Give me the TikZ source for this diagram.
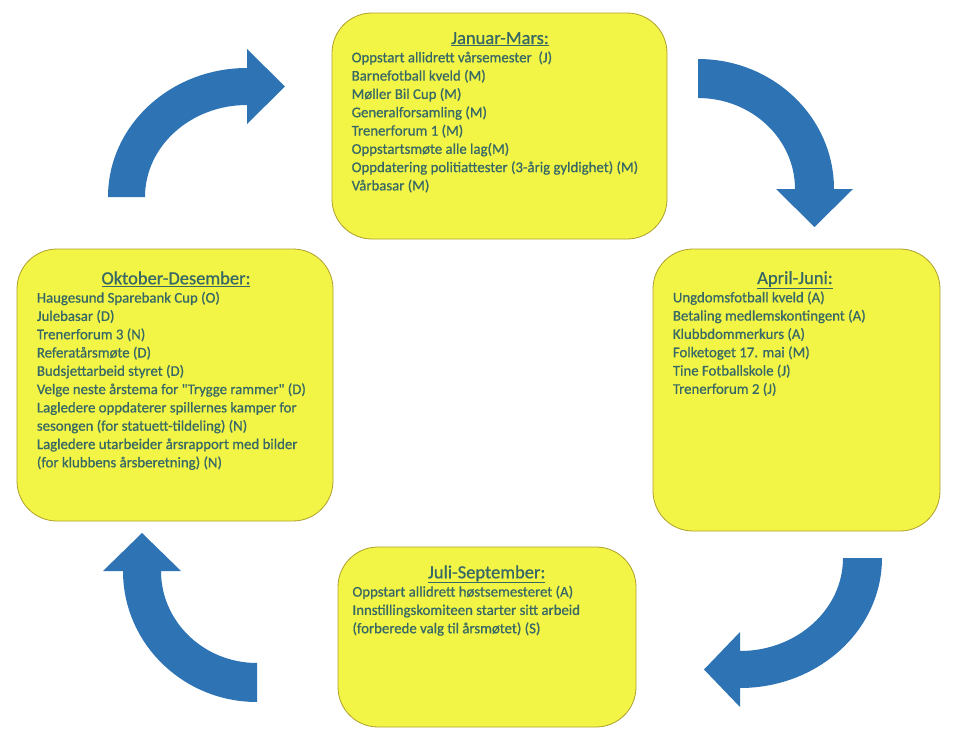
\documentclass[tikz,border=0pt]{standalone}
\usepackage{fontspec}
\newfontfamily\calfont{Carlito}[FakeBold=0.7]
\definecolor{boxfill}{RGB}{242,245,70}
\definecolor{boxline}{RGB}{175,160,45}
\definecolor{txt}{RGB}{55,104,102}
\definecolor{arrblue}{RGB}{46,116,181}
\begin{document}
\begin{tikzpicture}[x=1pt,y=-1pt,
  box/.style={draw=boxline, line width=0.8pt, fill=boxfill, rounded corners=40pt, inner sep=0pt},
  ttl/.style={text=txt, font=\calfont\fontsize{18.5}{22}\selectfont, anchor=base, inner sep=0pt},
  lst/.style={text=txt, font=\calfont\fontsize{14.8}{18.3}\selectfont, anchor=base west, align=left, inner sep=0pt},
  arr/.style={fill=arrblue, draw=none}]
\useasboundingbox (0,0) rectangle (954,744);
\fill[white] (0,0) rectangle (954,744);

% boxes
\node[box, minimum width=335pt, minimum height=226pt] (q1) at (499.5,126) {};
\node[box, minimum width=287pt, minimum height=282pt] (q2) at (796.5,390) {};
\node[box, minimum width=298pt, minimum height=180pt] (q3) at (487,637) {};
\node[box, minimum width=316pt, minimum height=272pt] (q4) at (175,385) {};

% titles
\node[ttl] (t1) at (500,44) {\underline{Januar-Mars:}};
\node[ttl] (t2) at (795,284) {\underline{April-Juni:}};
\node[ttl] (t3) at (486.7,578.3) {\underline{Juli-September:}};
\node[ttl] (t4) at (176,284.3) {\underline{Oktober-Desember:}};

% lists (anchored at the baseline of their last line)
\node[lst] (l1) at (351.5,190.4) {Oppstart allidrett vårsemester\ \ (J)\\
Barnefotball kveld (M)\\
Møller Bil Cup (M)\\
Generalforsamling (M)\\
Trenerforum 1 (M)\\
Oppstartsmøte alle lag(M)\\
Oppdatering politiattester (3-årig gyldighet) (M)\\
Vårbasar (M)};
\node[lst] (l2) at (672.7,393.8) {Ungdomsfotball kveld (A)\\
Betaling medlemskontingent (A)\\
Klubbdommerkurs (A)\\
Folketoget 17. mai (M)\\
Tine Fotballskole (J)\\
Trenerforum 2 (J)};
\node[lst] (l3) at (352.3,633.2) {Oppstart allidrett høstsemesteret (A)\\
Innstillingskomiteen starter sitt arbeid\\
(forberede valg til årsmøtet) (S)};
\node[lst] (l4) at (36.7,467.3) {Haugesund Sparebank Cup (O)\\
Julebasar (D)\\
Trenerforum 3 (N)\\
Referatårsmøte (D)\\
Budsjettarbeid styret (D)\\
Velge neste årstema for "Trygge rammer" (D)\\
Lagledere oppdaterer spillernes kamper for\\
sesongen (for statuett-tildeling) (N)\\
Lagledere utarbeider årsrapport med bilder\\
(for klubbens årsberetning) (N)};

% curved arrows
% top-left (Oct-Dec -> Jan-Mar)
\fill[arr] (108,197) arc[start angle=180, end angle=270, x radius=139, y radius=129]
  -- (247,49) -- (285,86.5) -- (247,124) -- (247,105)
  arc[start angle=270, end angle=180, x radius=102, y radius=92] -- cycle;
% top-right (Jan-Mar -> Apr-Jun)
\fill[arr] (698,59) arc[start angle=270, end angle=360, x radius=136, y radius=130]
  -- (853,189) -- (814.5,227) -- (776,189) -- (795,189)
  arc[start angle=360, end angle=270, x radius=97, y radius=91] -- cycle;
% bottom-right (Apr-Jun -> Jul-Sep)
\fill[arr] (882,558) arc[start angle=0, end angle=90, x radius=142, y radius=130]
  -- (740,707) -- (704,669.5) -- (740,632) -- (740,651)
  arc[start angle=90, end angle=0, x radius=103, y radius=93] -- cycle;
% bottom-left (Jul-Sep -> Oct-Dec)
\fill[arr] (257,702) arc[start angle=90, end angle=180, x radius=134, y radius=131]
  -- (123,571) -- (103,571) -- (142,533) -- (181,571) -- (161,571)
  arc[start angle=180, end angle=90, x radius=96, y radius=92] -- cycle;
\end{tikzpicture}
\end{document}
